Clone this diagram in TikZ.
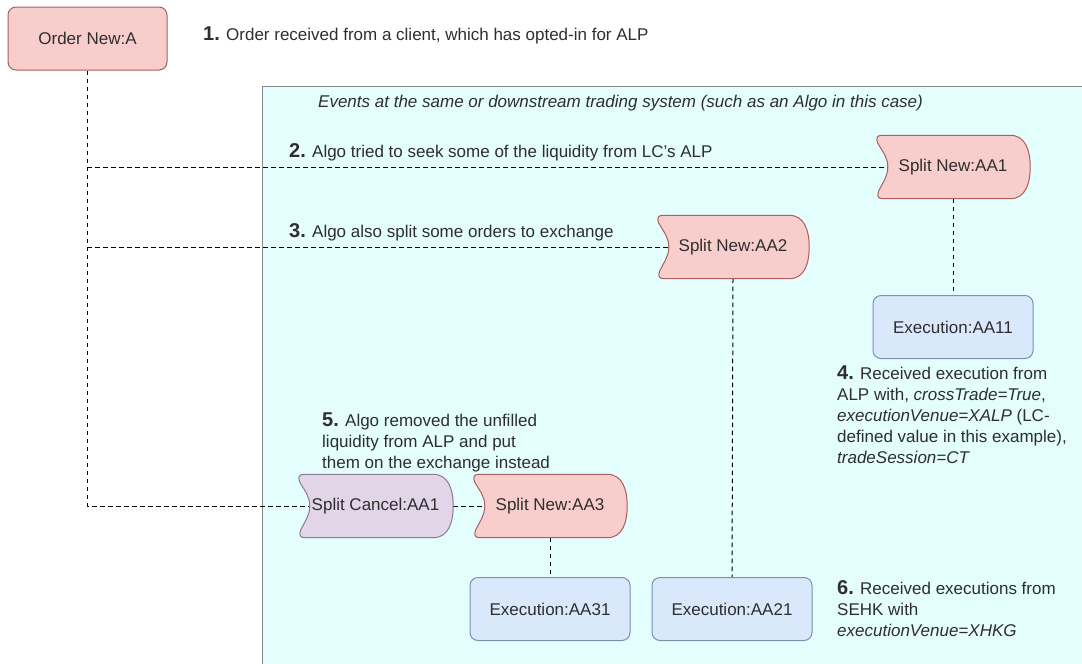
\documentclass[tikz,border=0pt]{standalone}
\usepackage{fontspec}
\setmainfont{Liberation Sans}
\usetikzlibrary{calc}

\pgfdeclarelayer{back}
\pgfdeclarelayer{links}
\pgfdeclarelayer{shapes}
\pgfsetlayers{back,links,shapes,main}

\definecolor{redfill}{HTML}{F8CECC}
\definecolor{redline}{HTML}{A8605C}
\definecolor{bluefill}{HTML}{DAE8FC}
\definecolor{blueline}{HTML}{7C90B0}
\definecolor{purplefill}{HTML}{E1D5E7}
\definecolor{purpleline}{HTML}{8E7A98}
\definecolor{zonefill}{HTML}{E4FEFE}
\definecolor{zoneline}{HTML}{808A8A}
\definecolor{ink}{HTML}{2E2E2E}

\tikzset{
  base/.style={font=\fontsize{17}{21}\selectfont, text=ink},
  card/.style={base, draw, rounded corners=8pt, line width=1pt,
    minimum width=160pt, minimum height=63pt, inner sep=0pt},
  ordercard/.style={card, fill=redfill, draw=redline},
  execcard/.style={card, fill=bluefill, draw=blueline},
  splitslot/.style={base, minimum width=154pt, minimum height=63pt, inner sep=0pt},
  link/.style={draw=black, line width=1pt, dash pattern=on 4.5pt off 3.5pt},
  note/.style={base, inner sep=0pt, align=left},
  zone/.style={fill=zonefill, draw=zoneline, line width=1pt},
}

% bold step number in front of each note
\newcommand\stepno[1]{{\fontsize{20}{21}\selectfont\bfseries #1.}}

% outline of a split order: concave left edge, rounded bulge on the right
\newcommand\splitoutline[3]{%
  \begin{pgfonlayer}{shapes}
  \path[fill=#2, draw=#3, line width=1pt]
    let \p1 = (#1.north west), \p2 = (#1.south east), \n1 = {(\y1+\y2)/2} in
    (\x1+6pt,\y1) -- (\x2-20pt,\y1)
    .. controls (\x2-5pt,\y1) and (\x2,\n1+17pt) .. (\x2,\n1)
    .. controls (\x2,\n1-17pt) and (\x2-5pt,\y2) .. (\x2-20pt,\y2)
    -- (\x1+7pt,\y2)
    .. controls (\x1+2pt,\y2) and (\x1+1pt,\y2+3pt) .. (\x1+3pt,\y2+8pt)
    .. controls (\x1+8pt,\y2+18pt) and (\x1+12pt,\n1-9pt) .. (\x1+12pt,\n1)
    .. controls (\x1+12pt,\n1+9pt) and (\x1+8pt,\y1-18pt) .. (\x1+2pt,\y1-8pt)
    .. controls (\x1,\y1-3pt) and (\x1+1pt,\y1) .. cycle;
  \end{pgfonlayer}}

\begin{document}
\begin{tikzpicture}[x=1pt, y=-1pt]
  \useasboundingbox (0,0) rectangle (1082,664);

  % area of the downstream trading system
  \begin{pgfonlayer}{back}
    \node[zone, anchor=north west, minimum width=840pt, minimum height=620pt,
      inner sep=0pt] (system) at (262,86) {};
  \end{pgfonlayer}
  \node[base, font=\fontsize{17}{21}\selectfont\itshape, anchor=west, inner sep=0pt]
    (systemtitle) at (318,103)
    {Events at the same or downstream trading system (such as an Algo in this case)};

  % order events
  \node[ordercard, minimum width=159pt] (orderA) at (87.5,38.5) {Order New:A};
  \node[splitslot] (aa1) at (953,167) {Split New:AA1};
  \node[splitslot, minimum width=152pt] (aa2) at (733,247) {Split New:AA2};
  \node[splitslot, minimum width=155pt] (cancel) at (375.5,506) {Split Cancel:AA1};
  \node[splitslot] (aa3) at (550,506) {Split New:AA3};
  \node[execcard] (aa11) at (953,327) {Execution:AA11};
  \node[execcard] (aa21) at (732,609) {Execution:AA21};
  \node[execcard] (aa31) at (550,609) {Execution:AA31};

  \splitoutline{aa1}{redfill}{redline}
  \splitoutline{aa2}{redfill}{redline}
  \splitoutline{aa3}{redfill}{redline}
  \splitoutline{cancel}{purplefill}{purpleline}

  % entry points on the concave left edges
  \coordinate (aa1in) at ($(aa1.west)+(12,0)$);
  \coordinate (aa2in) at ($(aa2.west)+(12,0)$);
  \coordinate (aa3in) at ($(aa3.west)+(12,0)$);
  \coordinate (cancelin) at ($(cancel.west)+(12,0)$);

  % connectors
  \begin{pgfonlayer}{links}
    \draw[link] (orderA.south) |- (aa1in);
    \draw[link] (orderA.south) |- (aa2in);
    \draw[link] (orderA.south) |- (cancelin);
    \draw[link] (cancel.east) -- (aa3in);
    \draw[link] (aa1.south) -- (aa11.north);
    \draw[link] (aa2.south) -- (aa21.north);
    \draw[link] (aa3.south) -- (aa31.north);
  \end{pgfonlayer}

  % numbered notes
  \node[note, anchor=west] (note1) at (203,35)
    {\stepno{1} Order received from a client, which has opted-in for ALP};
  \node[note, anchor=west] (note2) at (289,152)
    {\stepno{2} Algo tried to seek some of the liquidity from LC's ALP};
  \node[note, anchor=west] (note3) at (289,232)
    {\stepno{3} Algo also split some orders to exchange};
  \node[note, anchor=north west] (note4) at (837,366)
    {\stepno{4} Received execution from\\
     ALP with, \textit{crossTrade=True},\\
     \textit{executionVenue=XALP} (LC-\\
     defined value in this example),\\
     \textit{tradeSession=CT}};
  \node[note, anchor=north west] (note5) at (322,413)
    {\stepno{5} Algo removed the unfilled\\
     liquidity from ALP and put\\
     them on the exchange instead};
  \node[note, anchor=north west] (note6) at (837,580)
    {\stepno{6} Received executions from\\
     SEHK with\\
     \textit{executionVenue=XHKG}};
\end{tikzpicture}
\end{document}
